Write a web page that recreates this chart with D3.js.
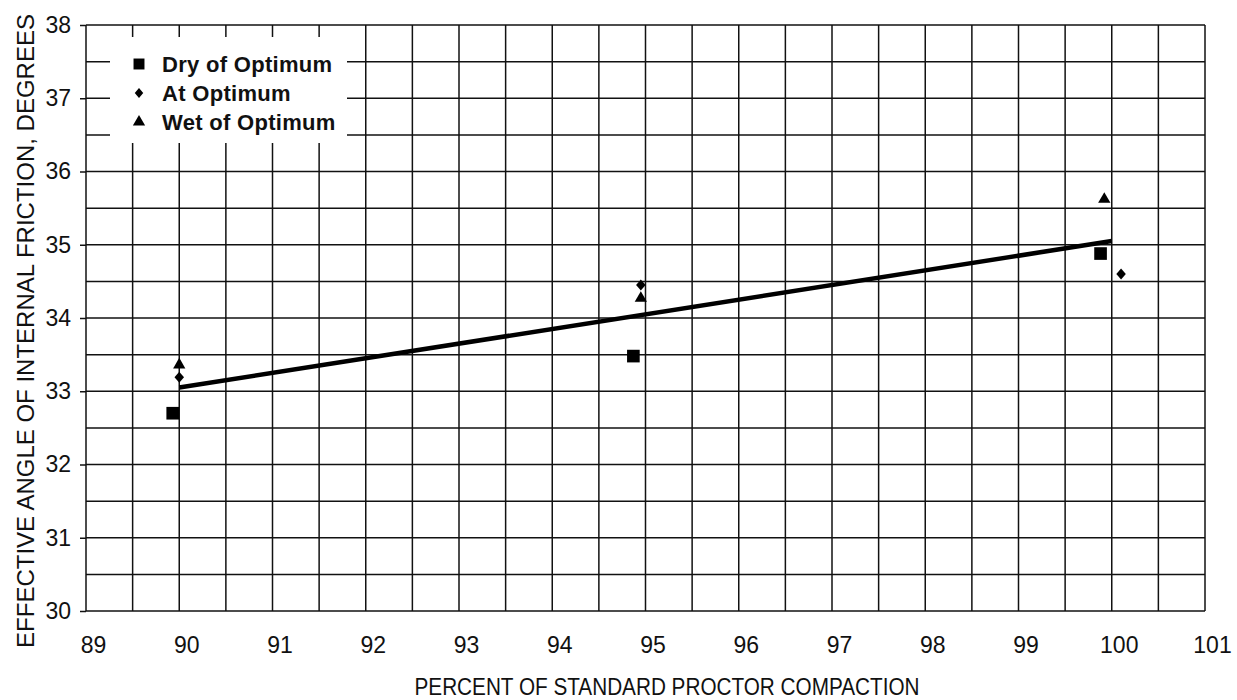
<!DOCTYPE html>
<html>
<head>
<meta charset="utf-8">
<script src="https://cdn.jsdelivr.net/npm/d3@7"></script>
<style>
  body { margin: 0; background: #fff; }
  svg { font-family: "Liberation Sans", Arial, sans-serif; }
</style>
</head>
<body>
<div id="chart"></div>
<script>
// Data
var dryOfOptimum = [[89.93, 32.70], [94.87, 33.48], [99.88, 34.88]];
var atOptimum = [[90.0, 33.19], [94.95, 34.45], [100.1, 34.60]];
var wetOfOptimum = [[90.0, 33.36], [94.95, 34.27], [99.92, 35.62]];
var trendX = [90, 100];
var trendY = [33.05, 35.05];
var xTicks = [89, 90, 91, 92, 93, 94, 95, 96, 97, 98, 99, 100, 101];
var yTicks = [30, 31, 32, 33, 34, 35, 36, 37, 38];
var legendLabels = ["Dry of Optimum", "At Optimum", "Wet of Optimum"];

var width = 1237, height = 700;

var svg = d3.select("#chart").append("svg").attr("width", width).attr("height", height);

var x = d3.scaleLinear().domain([89, 101]).range([86, 1205]);
var y = d3.scaleLinear().domain([30, 38]).range([611, 25]);

// grid every half unit
var gx = d3.range(89, 101.01, 0.5);
var gy = d3.range(30, 38.01, 0.5);

var grid = svg.append("g").attr("stroke", "#111").attr("stroke-width", 1.5);
grid.selectAll("line.v").data(gx).enter().append("line")
    .attr("x1", function(d) { return x(d); })
    .attr("x2", function(d) { return x(d); })
    .attr("y1", y(38)).attr("y2", y(30));
grid.selectAll("line.h").data(gy).enter().append("line")
    .attr("y1", function(d) { return y(d); })
    .attr("y2", function(d) { return y(d); })
    .attr("x1", x(89)).attr("x2", x(101));

// y axis: short ticks to the left and labels
var yAxis = d3.axisLeft(y).tickValues(yTicks).tickSize(6).tickPadding(9).tickFormat(d3.format("d"));
var ya = svg.append("g").attr("transform", "translate(" + x(89) + ",0)").call(yAxis);
ya.select(".domain").remove();
ya.selectAll("line").attr("stroke", "#111").attr("stroke-width", 1.5);
ya.selectAll("text").attr("font-size", 23).attr("fill", "#111")
    .attr("font-family", "Liberation Sans, Arial, sans-serif");

// x axis labels (no tick marks)
var xAxis = d3.axisBottom(x).tickValues(xTicks).tickSize(0).tickPadding(0).tickFormat(d3.format("d"));
var xa = svg.append("g").attr("transform", "translate(7," + 637 + ")").call(xAxis);
xa.select(".domain").remove();
xa.selectAll("text").attr("font-size", 23).attr("fill", "#111").attr("dy", "0.71em")
    .attr("font-family", "Liberation Sans, Arial, sans-serif");

// legend box blanks the grid
svg.append("rect").attr("x", 110).attr("y", 37).attr("width", 237).attr("height", 106).attr("fill", "#fff");

// marker shapes
var diamond = {
    draw: function(ctx, size) {
        var r = Math.sqrt(size) / 2;
        ctx.moveTo(0, -r * 1.1);
        ctx.lineTo(r * 0.95, 0);
        ctx.lineTo(0, r * 1.1);
        ctx.lineTo(-r * 0.95, 0);
        ctx.closePath();
    }
};
var symbols = [d3.symbolSquare, diamond, d3.symbolTriangle];
var sizes = [160, 100, 65];
var seriesData = [dryOfOptimum, atOptimum, wetOfOptimum];

// trend line
var line = d3.line().x(function(d) { return x(d[0]); }).y(function(d) { return y(d[1]); });
svg.append("path")
    .datum(d3.zip(trendX, trendY))
    .attr("d", line)
    .attr("fill", "none")
    .attr("stroke", "#000")
    .attr("stroke-width", 4.5);

seriesData.forEach(function(series, i) {
    svg.append("g").selectAll("path").data(series).enter().append("path")
        .attr("d", d3.symbol().type(symbols[i]).size(sizes[i]))
        .attr("transform", function(d) { return "translate(" + x(d[0]) + "," + y(d[1]) + ")"; })
        .attr("fill", "#000");
});

// legend
var legendSizes = [120, 80, 65];
var legend = svg.append("g").selectAll("g").data(legendLabels).enter().append("g")
    .attr("transform", function(d, i) { return "translate(139," + (64 + i * 29) + ")"; });
legend.append("path")
    .attr("d", function(d, i) { return d3.symbol().type(symbols[i]).size(legendSizes[i])(); })
    .attr("fill", "#000");
legend.append("text")
    .attr("x", 23).attr("y", 8)
    .attr("font-size", 22).attr("font-weight", "bold").attr("fill", "#111")
    .attr("letter-spacing", 0.3)
    .text(function(d) { return d; });

// axis titles
svg.append("text")
    .attr("x", 667).attr("y", 695)
    .attr("text-anchor", "middle")
    .attr("font-size", 24).attr("fill", "#111")
    .attr("textLength", 505).attr("lengthAdjust", "spacingAndGlyphs")
    .text("PERCENT OF STANDARD PROCTOR COMPACTION");

svg.append("text")
    .attr("transform", "translate(34,331) rotate(-90)")
    .attr("text-anchor", "middle")
    .attr("font-size", 24).attr("fill", "#111")
    .text("EFFECTIVE ANGLE OF INTERNAL FRICTION, DEGREES");
</script>
</body>
</html>
